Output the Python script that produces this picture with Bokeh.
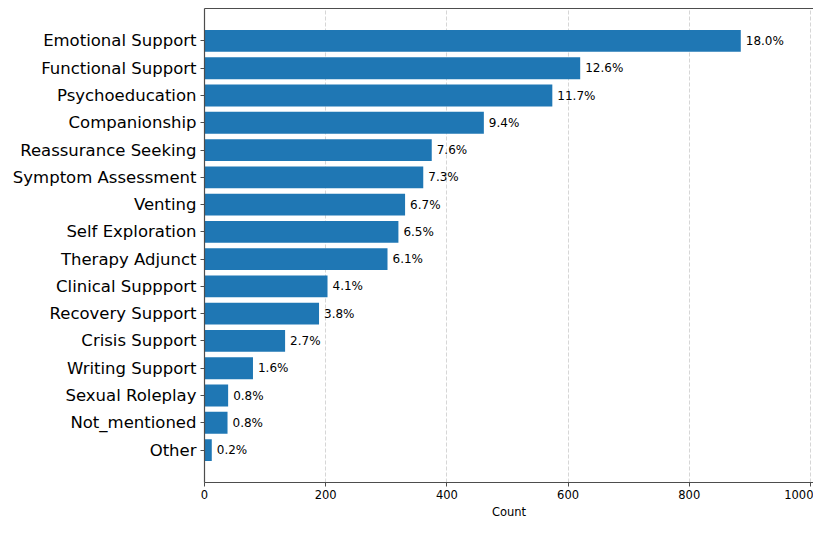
from bokeh.plotting import figure
from bokeh.models import Range1d, FixedTicker, LinearAxis, ColumnDataSource
from bokeh.embed import file_html
from bokeh.resources import INLINE

categories = ["Emotional Support", "Functional Support", "Psychoeducation", "Companionship",
              "Reassurance Seeking", "Symptom Assessment", "Venting", "Self Exploration",
              "Therapy Adjunct", "Clinical Suppport", "Recovery Support", "Crisis Support",
              "Writing Support", "Sexual Roleplay", "Not_mentioned", "Other"]
counts = [885, 620, 574, 461, 375, 361, 331, 320, 302, 203, 189, 133, 80, 39, 38, 12]
pct_labels = ["18.0%", "12.6%", "11.7%", "9.4%", "7.6%", "7.3%", "6.7%", "6.5%",
              "6.1%", "4.1%", "3.8%", "2.7%", "1.6%", "0.8%", "0.8%", "0.2%"]
x_ticks = [0, 200, 400, 600, 800, 1000]

n = len(categories)
ypos = [n - 1 - i for i in range(n)]
src = ColumnDataSource(dict(y=ypos, count=counts, label=pct_labels, cat=categories))

FONT = "DejaVu Sans"
AX = "#4d4d4d"

p = figure(width=813, height=521, output_backend="svg", toolbar_location=None,
           x_range=Range1d(0, 1005), y_range=Range1d(-1.19, n - 1 + 1.19),
           min_border_left=204, min_border_right=0, min_border_top=8, min_border_bottom=30)
p.outline_line_color = None
p.background_fill_color = "white"
p.border_fill_color = "white"

p.hbar(y="y", right="count", left=0, height=0.8, source=src, color="#1f77b4", line_color=None)
p.text(x="count", y="y", text="label", source=src, x_offset=5, text_baseline="middle",
       text_align="left", text_font_size="12px", text_font={"value": FONT}, text_color="black")

# x axis
xa = p.xaxis[0]
xa.ticker = FixedTicker(ticks=x_ticks)
xa.axis_label = "Count"
xa.axis_label_text_font = FONT
xa.axis_label_text_font_size = "11.5px"
xa.axis_label_text_font_style = "normal"
xa.axis_label_text_color = "black"
xa.axis_label_standoff = 3
xa.major_label_text_font = FONT
xa.major_label_text_font_size = "11.5px"
xa.major_label_text_color = "black"
xa.major_label_standoff = 3
xa.minor_tick_line_color = None
xa.major_tick_out = 4
xa.major_tick_in = 0
xa.axis_line_color = AX
xa.axis_line_width = 1.2
xa.major_tick_line_color = AX

# y axis
ya = p.yaxis[0]
ya.ticker = FixedTicker(ticks=ypos)
ya.major_label_overrides = {y: c for y, c in zip(ypos, categories)}
ya.major_label_text_font = FONT
ya.major_label_text_font_size = "16.5px"
ya.major_label_text_color = "black"
ya.major_label_standoff = 4
ya.minor_tick_line_color = None
ya.major_tick_out = 4
ya.major_tick_in = 0
ya.axis_line_color = AX
ya.axis_line_width = 1.2
ya.major_tick_line_color = AX

# top spine
top = LinearAxis(ticker=FixedTicker(ticks=[]), axis_line_color=AX, axis_line_width=1.2,
                 major_tick_line_color=None, minor_tick_line_color=None)
p.add_layout(top, "above")

p.ygrid.grid_line_color = None
p.xgrid.ticker = FixedTicker(ticks=x_ticks)
p.xgrid.grid_line_color = "#cccccc"
p.xgrid.grid_line_dash = "4 2"
p.xgrid.grid_line_alpha = 0.8

open("out.html", "w").write(file_html(p, INLINE))
